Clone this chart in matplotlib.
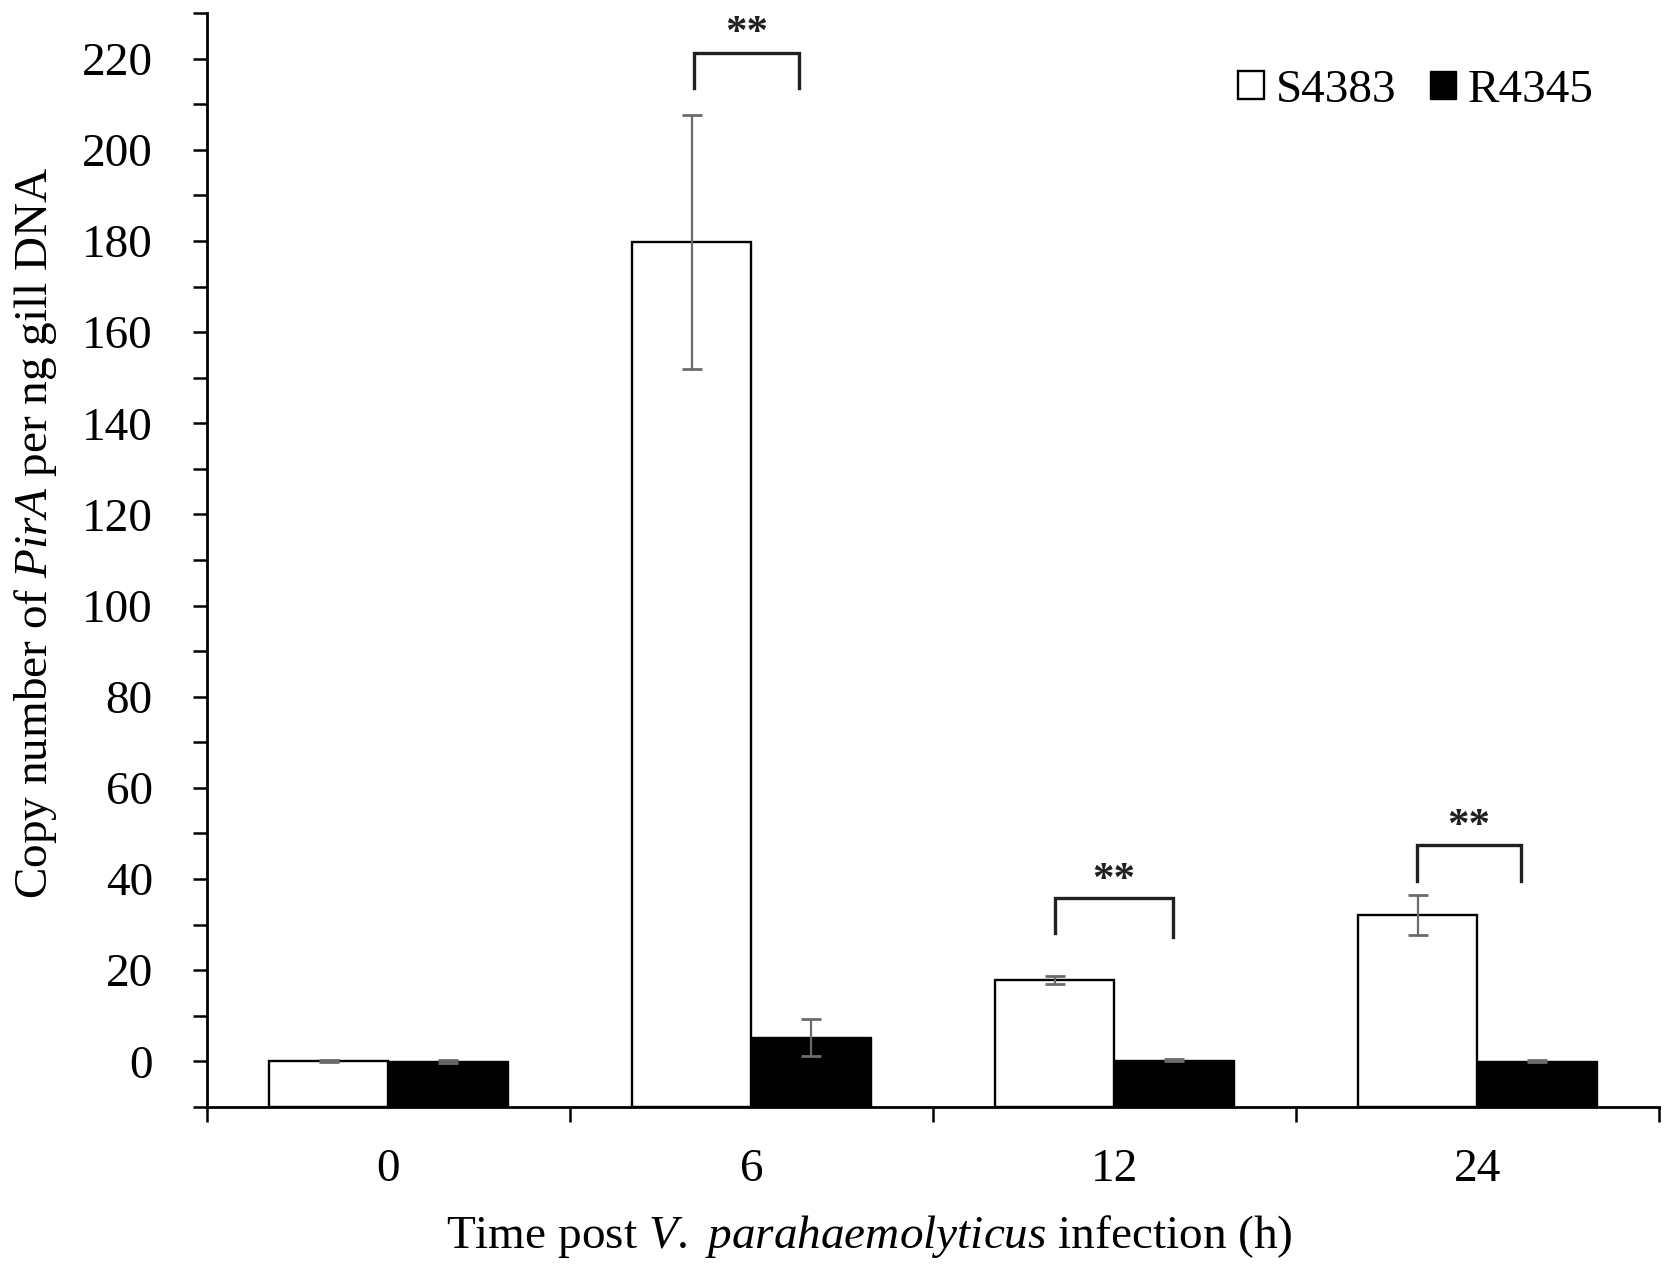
import numpy as np
import matplotlib
matplotlib.use("Agg")
import matplotlib.pyplot as plt
from matplotlib.patches import Patch

plt.rcParams['font.family'] = ['Liberation Serif', 'DejaVu Serif']
plt.rcParams['mathtext.fontset'] = 'custom'
plt.rcParams['mathtext.rm'] = 'Liberation Serif'
plt.rcParams['mathtext.it'] = 'Liberation Serif:italic'

# dados
tempos = ['0', '6', '12', '24']
s4383 = [0.1, 179.8, 17.8, 32.1]
s4383_err = [0.3, 27.9, 0.9, 4.3]
r4345 = [0.0, 5.3, 0.3, 0.1]
r4345_err = [0.3, 4.1, 0.2, 0.2]

# colchetes de significancia: (x esquerda, x direita, topo, perna esq, perna dir, y estrelas)
colchetes = [
    (0.842, 1.131, 221.3, 213.6, 213.6, 225.3),
    (1.836, 2.161, 35.8, 28.1, 27.3, 39.6),
    (2.833, 3.120, 47.5, 39.6, 39.6, 51.5),
]

ymin, ymax = -10, 230
largura = 0.328
fs = 34

fig = plt.figure(figsize=(16.8, 12.8), dpi=100)
ax = fig.add_axes([0.1232, 0.1352, 0.8643, 0.8546])

x = np.arange(len(tempos))
xs = x - largura / 2
xr = x + largura / 2

ax.bar(xs, np.array(s4383) - ymin, bottom=ymin, width=largura,
       color='white', edgecolor='black', linewidth=1.7, zorder=2)
ax.bar(xr, np.array(r4345) - ymin, bottom=ymin, width=largura,
       color='black', edgecolor='black', linewidth=1.0, zorder=2)
ax.errorbar(xs, s4383, yerr=s4383_err, fmt='none', ecolor='#6b6b6b',
            elinewidth=1.6, capsize=7, capthick=2.0, zorder=3)
ax.errorbar(xr, r4345, yerr=r4345_err, fmt='none', ecolor='#6b6b6b',
            elinewidth=1.6, capsize=7, capthick=2.0, zorder=3)

for x1, x2, topo, p1, p2, ye in colchetes:
    ax.plot([x1, x1, x2, x2], [p1, topo, topo, p2], color='#231f20',
            lw=2.4, solid_joinstyle='miter', zorder=4)
    ax.text((x1 + x2) / 2, ye, '**', ha='center', va='center',
            fontsize=31, fontweight='bold', color='#231f20')

ax.set_xlim(-0.5, 3.5)
ax.set_ylim(ymin, ymax)

ax.spines['top'].set_visible(False)
ax.spines['right'].set_visible(False)
for s in ['left', 'bottom']:
    ax.spines[s].set_linewidth(2.0)

ax.set_yticks(np.arange(0, 221, 20))
ax.set_yticks(np.arange(-10, 231, 10), minor=True)
ax.tick_params(axis='y', which='both', direction='out', length=10, width=1.8,
               labelsize=fs, pad=29)

ax.set_xticks(np.arange(-0.5, 3.6, 1))
ax.set_xticklabels([])
ax.set_xticks(x, minor=True)
ax.set_xticklabels(tempos, minor=True)
ax.tick_params(axis='x', which='major', direction='out', length=11, width=1.8)
ax.tick_params(axis='x', which='minor', length=0, labelsize=fs, pad=30)

ax.set_ylabel(r'Copy number of $\mathit{PirA}$ per ng gill DNA', fontsize=fs)
ax.yaxis.set_label_coords(-0.102, 0.525)
ax.set_xlabel(r'Time post $\mathit{V.}$ $\mathit{parahaemolyticus}$ infection (h)', fontsize=fs)
ax.xaxis.set_label_coords(0.456, -0.097)

handles = [Patch(facecolor='white', edgecolor='black', linewidth=1.7, label='S4383'),
           Patch(facecolor='black', edgecolor='black', label='R4345')]
ax.legend(handles=handles, loc='center right', bbox_to_anchor=(0.955, 0.929),
          ncol=2, frameon=False, fontsize=fs, handlelength=0.55, handleheight=0.55,
          handletextpad=0.25, columnspacing=0.7, borderpad=0, borderaxespad=0)

fig.savefig('out.png', dpi=100)
